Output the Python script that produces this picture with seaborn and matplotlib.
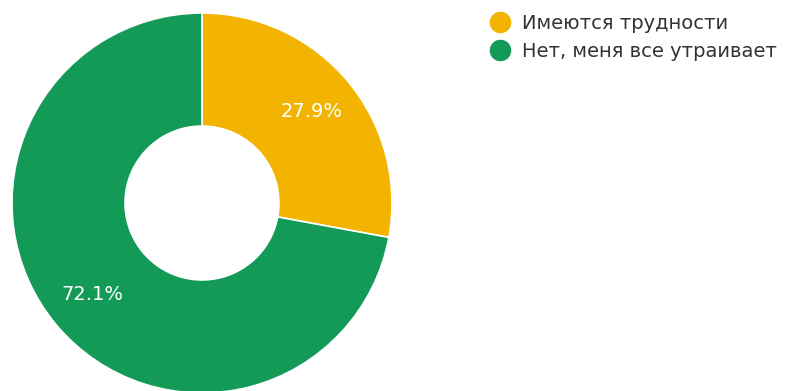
import matplotlib
matplotlib.use("Agg")
import matplotlib.pyplot as plt
from matplotlib.lines import Line2D
import seaborn as sns

categories = ["Имеются трудности", "Нет, меня все утраивает"]
shares = [27.9, 72.1]
colors = ["#F2B400", "#139A57"]

sns.set_theme(style="white")
plt.rcParams["font.family"] = ["DejaVu Sans"]

W, H, DPI = 787, 391, 100
fig = plt.figure(figsize=(W / DPI, H / DPI), dpi=DPI)
ax = fig.add_axes([0, 0, 1, 1])

# donut geometry in pixels
cx, cy, r = 202, 203, 190

wedges, _, autotexts = ax.pie(
    shares,
    colors=colors,
    startangle=90,
    counterclock=False,
    radius=1.0,
    autopct="%1.1f%%",
    pctdistance=0.75,
    wedgeprops=dict(width=0.595, edgecolor="white", linewidth=1.2),
    textprops=dict(color="white", fontsize=14),
)

ax.set_aspect("auto")
ax.set_xlim(-cx / r, (W - cx) / r)
ax.set_ylim(-(H - cy) / r, cy / r)
ax.axis("off")

handles = [
    Line2D([], [], marker="o", linestyle="none", markersize=14.5,
           markerfacecolor=c, markeredgecolor=c)
    for c in colors
]
fig.legend(
    handles, categories,
    loc="upper left", bbox_to_anchor=(481 / W, 1 - 6 / H),
    frameon=False, fontsize=14, handletextpad=0.5,
    labelspacing=0.45, handlelength=1.2, borderaxespad=0,
    labelcolor="#333333",
)

fig.savefig("out.png", dpi=DPI, facecolor="white")
